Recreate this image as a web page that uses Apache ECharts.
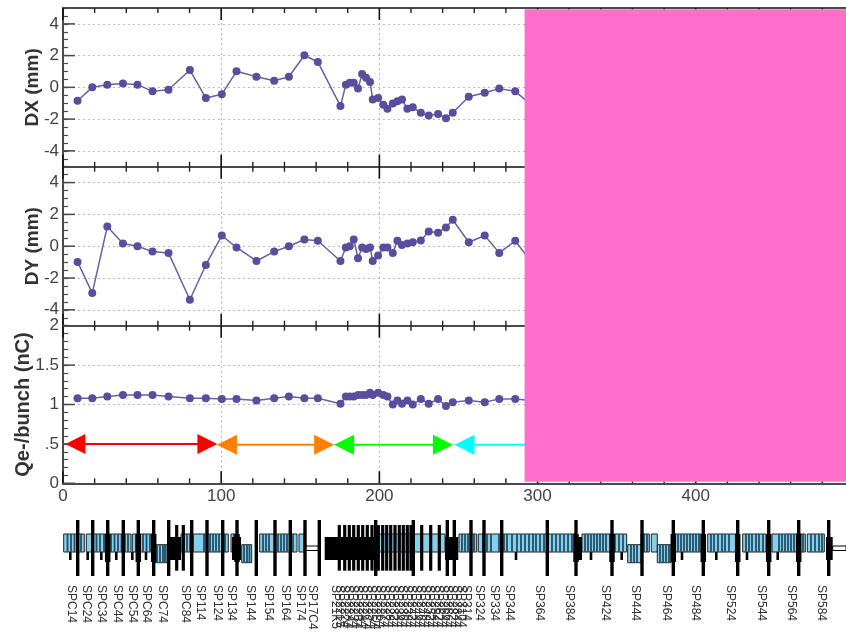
<!DOCTYPE html>
<html>
<head>
<meta charset="utf-8">
<title>orbit</title>
<style>
html, body { margin: 0; padding: 0; background: #fff; }
#main { width: 846px; height: 633px; }
</style>
<script src="https://cdn.jsdelivr.net/npm/echarts@6/dist/echarts.min.js"></script>
</head>
<body>
<div id="main"></div>
<script>
// bpm readings
var sPos = [9.2, 18.5, 28, 37.9, 47.1, 56.6, 66.7, 80.2, 90.3, 100.4, 109.7, 122.3, 133.5, 142.8, 152.6, 161.1, 175.4, 178.8, 181.3, 183.8, 186.5, 189.1, 191.6, 194.1, 195.8, 199.2, 202.5, 205.1, 208.5, 211.4, 214.3, 217.7, 221.1, 226.2, 231.2, 237.1, 242.1, 246.4, 256.5, 266.6, 275.8, 285.9, 296];
var dxValues = [-0.84, 0, 0.17, 0.25, 0.17, -0.25, -0.15, 1.09, -0.67, -0.44, 1.01, 0.67, 0.42, 0.67, 2.02, 1.6, -1.18, 0.17, 0.29, 0.29, -0.08, 0.84, 0.61, 0.34, -0.76, -0.67, -1.09, -1.35, -1.01, -0.88, -0.76, -1.35, -1.26, -1.6, -1.77, -1.68, -1.94, -1.6, -0.59, -0.34, -0.08, -0.25, -1.1];
var dyValues = [-0.99, -2.95, 1.24, 0.17, 0, -0.34, -0.42, -3.37, -1.18, 0.67, -0.08, -0.93, -0.34, 0, 0.42, 0.34, -0.93, -0.08, 0, 0.42, -0.76, -0.08, -0.17, -0.08, -0.93, -0.59, -0.08, -0.08, -0.42, 0.34, 0.08, 0.17, 0.25, 0.36, 0.93, 0.84, 1.18, 1.66, 0.25, 0.67, -0.42, 0.34, -1];
var qValues = [1.08, 1.08, 1.1, 1.12, 1.12, 1.12, 1.1, 1.08, 1.08, 1.07, 1.07, 1.05, 1.08, 1.1, 1.08, 1.08, 1.01, 1.1, 1.1, 1.1, 1.12, 1.12, 1.12, 1.15, 1.12, 1.15, 1.12, 1.1, 1, 1.05, 1.01, 1.05, 1, 1.07, 1.01, 1.07, 0.98, 1.03, 1.05, 1.03, 1.07, 1.07, 1.05];

// double arrows in the charge panel: from, to, level, colour
var arrowFrom = [1.5, 97.3, 171.4, 247.5];
var arrowTo = [97.6, 171.4, 246.5, 330];
var arrowLevel = [0.5, 0.49, 0.49, 0.49];
var arrowColors = ['#ff0000', '#ff8000', '#00ff00', '#00ffff'];

var xMajor = [0, 100, 200, 300, 400];
var xMinor = [20, 40, 60, 80, 120, 140, 160, 180, 220, 240, 260, 280, 320, 340, 360, 380, 420, 440, 460, 480];
var xMax = 495;
var maskFrom = 291.8;

// beamline strip, positions along the strip, heights around the pipe
var upperBoxes = [[0.7, 21.3], [23.3, 68], [69.3, 90.7], [118, 165.3], [168, 174.7], [196.7, 234], [236, 241.3], [312.7, 382], [396, 413.7], [415.3, 513], [519, 563.7], [578, 586.3], [588.3, 594.3], [611.3, 638], [644.7, 673], [679.7, 703], [709, 742.3], [744.3, 761.3]];
var lowerBoxes = [[91.3, 104], [178.7, 188.7], [564.7, 578], [594.3, 608]];
var upperStripes = [4.5, 8, 11.5, 15, 18, 30, 33.5, 37, 41, 44.5, 48, 51.5, 55, 58.5, 62, 65, 73, 76.5, 80, 83.5, 87, 121, 124, 127, 130, 141, 144, 147, 150, 153, 156, 159, 162, 171, 200, 203, 206, 212, 215, 218, 221, 224, 227, 230, 399, 402, 405, 408, 411, 420, 424, 428, 436, 441, 444, 449, 454, 458, 462, 466, 470, 473, 477, 481, 485, 489, 493, 497, 501, 505, 509, 522, 525, 528, 531, 534, 537, 540, 543, 552, 556, 560, 581, 584, 615, 618, 621, 624, 627, 630, 633, 636, 648, 651, 655, 659, 662, 666, 683, 686, 689, 693, 696, 700, 716, 719, 722, 725, 728, 731, 734, 737, 740, 748, 752, 756, 759];
var lowerStripes = [94, 97, 100, 102, 181, 184, 186.5, 568, 571, 574, 597, 600, 603, 606];
var longMagnets = [14.7, 29.7, 44.7, 60.3, 75.3, 90.7, 105.7, 128.7, 144, 159.7, 174, 193.3, 212, 227.3, 242, 256.3, 312.7, 350.3, 384.3, 391.3, 408, 421, 438.7, 484.3, 513, 549, 579, 610.3, 640.3, 674.7, 705.7, 735.7, 765.7];
var midMagnets = [113.7, 120.3, 276.3, 281.7, 286.3, 290.7, 295.3, 299.7, 304.3, 309, 315.3, 319.7, 323.7, 327.7, 332, 336.3, 340.3, 344.3, 348, 358.7, 367.7, 376.3];
var lowerStubs = [7.3, 24.7, 38.3, 53.3, 69.3, 83, 453, 528, 558.7, 619, 653.3, 684, 714.7];
var thickMagnets = [44.7, 75.3, 90.7, 174, 513, 549, 610.3, 640.3, 674.7, 705.7, 735.7];
var blackBlocks = [[104, 118], [169, 178], [261.7, 312], [382, 395.3], [763, 769.7], [513, 519]];
var pipes = [[242.7, 255.3], [769.7, 783]];

var labelPos = [8.7, 23.7, 38.7, 54.7, 69.3, 83.7, 99.7, 122.7, 137.7, 154.3, 168, 187.7, 205.3, 222, 237, 249.7, 272, 276.5, 281, 285.5, 290, 294.5, 299, 303.5, 308, 312.5, 317, 321.5, 326, 330.5, 335, 339.5, 344, 348.5, 353, 357.5, 362, 366.5, 371, 375.5, 380, 384.5, 389, 393.5, 398, 403.7, 416.3, 431, 446.3, 476.3, 506.3, 542, 572.3, 603, 632.3, 667, 698, 728.7, 758];
var labelNames = ['SPC14', 'SPC24', 'SPC34', 'SPC44', 'SPC54', 'SPC64', 'SPC74', 'SPC84', 'SP114', 'SP124', 'SP134', 'SP144', 'SP154', 'SP164', 'SP174', 'SP17C4', 'SP21K5', 'SP2215', 'SP2224', 'SP22A4', 'SP2234', 'SP22B4', 'SP2244', 'SP22C4', 'SP2254', 'SP22D4', 'SP2264', 'SP2274', 'SP2284', 'SP2324', 'SP2344', 'SP2364', 'SP2384', 'SP2424', 'SP2444', 'SP2464', 'SP2484', 'SP2524', 'SP2544', 'SP2624', 'SP2644', 'SP2664', 'SP2824', 'SP2844', 'SP3104', 'SP314', 'SP324', 'SP334', 'SP344', 'SP364', 'SP384', 'SP424', 'SP444', 'SP464', 'SP484', 'SP524', 'SP544', 'SP564', 'SP584'];

var FONT = 'Liberation Sans';
var AXIS_COLOR = '#4a4a4a';
var LABEL_COLOR = '#444';
var GRID_STYLE = { color: '#bbbbbb', type: [2, 3], width: 1.2 };
var panelTop = [8, 166.7, 325.7];
var panelHeight = [158.7, 159, 157.6];

function zip(xs, ys) {
    return xs.map(function (x, i) { return [x, ys[i]]; });
}

var grids = [], xAxes = [], yAxes = [], series = [];

function addX(panel, pos, showLabel) {
    xAxes.push({
        type: 'value', gridIndex: panel, position: pos, min: 0, max: xMax,
        axisLine: { show: true, onZero: false, lineStyle: { color: AXIS_COLOR, width: 2 } },
        axisTick: { show: false, customValues: xMajor },
        axisLabel: {
            show: showLabel, margin: 5, fontFamily: FONT, fontSize: 17, color: LABEL_COLOR,
            customValues: xMajor
        },
        splitLine: { show: pos == 'bottom', lineStyle: GRID_STYLE }
    });
}

for (var p = 0; p < 3; p++) {
    grids.push({ left: 63, width: 783, top: panelTop[p], height: panelHeight[p] });
}
for (p = 0; p < 3; p++) addX(p, 'bottom', p == 2);
for (p = 0; p < 3; p++) addX(p, 'top', false);

var yNames = ['DX (mm)', 'DY (mm)', 'Qe-/bunch (nC)'];
var yRange = [[-5, 5], [-5, 5], [0, 2]];
var yStep = [0.5, 0.5, 0.1];
var yMajor = [[-4, -2, 0, 2, 4], [-4, -2, 0, 2, 4], [0, 0.5, 1, 1.5, 2]];
var yGap = [21, 21, 30];
var yNameSize = [19, 19, 20];

// small ticks + labels
for (p = 0; p < 3; p++) {
    yAxes.push({
        type: 'value', gridIndex: p, min: yRange[p][0], max: yRange[p][1], interval: yStep[p],
        name: yNames[p], nameLocation: 'middle', nameRotate: 90, nameGap: yGap[p], nameMoveOverlap: false,
        nameTextStyle: { fontFamily: FONT, fontSize: yNameSize[p], fontWeight: 'bold', color: '#333' },
        axisLine: { show: true, onZero: false, lineStyle: { color: AXIS_COLOR, width: 2 } },
        axisTick: { show: true, inside: true, length: 5, lineStyle: { color: AXIS_COLOR, width: 1.2 } },
        splitLine: { show: false },
        axisLabel: {
            margin: 4, fontFamily: FONT, fontSize: 17, color: LABEL_COLOR,
            customValues: yMajor[p],
            formatter: function (v) { return v == 0.5 ? '.5' : String(v); }
        }
    });
}
// dotted grid
for (p = 0; p < 3; p++) {
    yAxes.push({
        type: 'value', gridIndex: p, min: yRange[p][0], max: yRange[p][1],
        axisLine: { show: false, onZero: false },
        axisLabel: { show: false },
        axisTick: { show: false, customValues: yMajor[p] },
        splitLine: { show: true, lineStyle: GRID_STYLE }
    });
}

// mask grid and beamline grid
var MASK_X = xAxes.length, MASK_Y = yAxes.length;
grids.push({ left: 63, width: 783, top: 9.3, height: 472.4 });
xAxes.push({ type: 'value', gridIndex: 3, min: 0, max: xMax, show: false });
yAxes.push({ type: 'value', gridIndex: 3, min: 0, max: 1, show: false });
var STRIP_X = xAxes.length, STRIP_Y = yAxes.length;
grids.push({ left: 63, width: 783, top: 515, height: 66 });
xAxes.push({ type: 'value', gridIndex: 4, min: 0, max: 783, show: false });
yAxes.push({ type: 'value', gridIndex: 4, min: -33, max: 33, show: false });

// inner ticks as thin rect symbols, size and offset in pixels
function tickSeries(panel, points, size, offset, color) {
    return {
        type: 'scatter', xAxisIndex: panel, yAxisIndex: panel, z: 9, animation: false, silent: true, clip: false,
        data: points, symbol: 'rect', symbolSize: size, symbolOffset: offset,
        itemStyle: { color: color, opacity: 1 }
    };
}
function atLevel(values, level) {
    return values.map(function (v) { return [v, level]; });
}
for (p = 0; p < 3; p++) {
    var low = yRange[p][0], high = yRange[p][1];
    series.push(tickSeries(p, atLevel(xMajor, low), [1.6, 12], [0, -6], '#111'));
    series.push(tickSeries(p, atLevel(xMajor, high), [1.6, 12], [0, 6], '#111'));
    series.push(tickSeries(p, atLevel(xMinor, low), [1.4, 5], [0, -2.5], '#222'));
    series.push(tickSeries(p, atLevel(xMinor, high), [1.4, 5], [0, 2.5], '#222'));
    series.push(tickSeries(p, yMajor[p].map(function (v) { return [0, v]; }), [12, 1.5], [6, 0], AXIS_COLOR));
}

var seriesValues = [dxValues, dyValues, qValues];
for (p = 0; p < 3; p++) {
    series.push({
        type: 'line', xAxisIndex: p, yAxisIndex: p, data: zip(sPos, seriesValues[p]),
        symbol: 'circle', symbolSize: 8, z: 10, animation: false,
        lineStyle: { color: '#6a5fa8', width: 1.5 },
        itemStyle: { color: '#5a4c9f' }
    });
}

// arrows
series.push({
    type: 'custom', xAxisIndex: 2, yAxisIndex: 2, z: 11, animation: false,
    data: arrowFrom.map(function (a, i) { return [a, arrowLevel[i], arrowTo[i], i]; }),
    renderItem: function (params, api) {
        var a = api.coord([api.value(0), api.value(1)]);
        var b = api.coord([api.value(2), api.value(1)]);
        var c = arrowColors[api.value(3)];
        return {
            type: 'group',
            children: [
                { type: 'line', shape: { x1: a[0] + 10, y1: a[1], x2: b[0] - 10, y2: b[1] }, style: { stroke: c, lineWidth: 2 } },
                { type: 'polygon', shape: { points: [[a[0], a[1]], [a[0] + 20, a[1] - 10], [a[0] + 20, a[1] + 10]] }, style: { fill: c } },
                { type: 'polygon', shape: { points: [[b[0], b[1]], [b[0] - 20, b[1] - 10], [b[0] - 20, b[1] + 10]] }, style: { fill: c } }
            ]
        };
    }
});

// rows are [from, to, top, bottom] on the beamline axes
function rectSeries(rows, fill, stroke, z) {
    return {
        type: 'custom', xAxisIndex: STRIP_X, yAxisIndex: STRIP_Y, z: z, animation: false, data: rows,
        renderItem: function (params, api) {
            var p0 = api.coord([api.value(0), api.value(2)]);
            var p1 = api.coord([api.value(1), api.value(3)]);
            return {
                type: 'rect',
                shape: { x: p0[0], y: p0[1], width: p1[0] - p0[0], height: p1[1] - p0[1] },
                style: stroke ? { fill: fill, stroke: stroke, lineWidth: 1 } : { fill: fill }
            };
        }
    };
}
function sticks(list, w, top, bottom) {
    return list.map(function (x) { return [x - w / 2, x + w / 2, top, bottom]; });
}
function spans(list, top, bottom) {
    return list.map(function (r) { return [r[0], r[1], top, bottom]; });
}

series.push(rectSeries(spans(pipes, 2, -2.5), '#fff', '#000', 2));
series.push(rectSeries(spans(upperBoxes, 14, -4), '#86cfeb', '#222', 3));
series.push(rectSeries(spans(lowerBoxes, 3.3, -14.7), '#86cfeb', '#222', 3));
series.push(rectSeries(sticks(upperStripes, 1.8, 14, -4), '#234e66', null, 4));
series.push(rectSeries(sticks(lowerStripes, 1.8, 3.3, -14.7), '#234e66', null, 4));
series.push(rectSeries(spans(blackBlocks, 11, -12), '#000', null, 5));
series.push(rectSeries(sticks(longMagnets, 3.4, 28, -28), '#000', null, 6));
series.push(rectSeries(sticks(midMagnets, 3.2, 23, -22.7), '#000', null, 6));
series.push(rectSeries(sticks(lowerStubs, 2.6, -4, -12), '#000', null, 6));
series.push(rectSeries(sticks(thickMagnets, 5.5, 14, -14), '#000', null, 6));

// labels under the strip
series.push({
    type: 'custom', xAxisIndex: STRIP_X, yAxisIndex: STRIP_Y, z: 7, animation: false,
    data: labelPos.map(function (x, i) { return [x, -37, i]; }),
    renderItem: function (params, api) {
        var pt = api.coord([api.value(0), api.value(1)]);
        return {
            type: 'text', x: pt[0], y: pt[1], rotation: -Math.PI / 2,
            style: {
                text: labelNames[api.value(2)], textAlign: 'left', textVerticalAlign: 'middle',
                fontFamily: FONT, fontSize: 12, fill: '#333'
            }
        };
    }
});

// pink mask over the right part of the panels
series.push({
    type: 'custom', xAxisIndex: MASK_X, yAxisIndex: MASK_Y, z: 20, animation: false,
    data: [[maskFrom, xMax, 1, 0]],
    renderItem: function (params, api) {
        var p0 = api.coord([api.value(0), api.value(2)]);
        var p1 = api.coord([api.value(1), api.value(3)]);
        return {
            type: 'rect',
            shape: { x: p0[0], y: p0[1], width: p1[0] - p0[0], height: p1[1] - p0[1] },
            style: { fill: '#ff6ecb' }
        };
    }
});

var myChart = echarts.init(document.getElementById('main'));
myChart.setOption({
    backgroundColor: '#fff',
    animation: false,
    grid: grids,
    xAxis: xAxes,
    yAxis: yAxes,
    series: series
});
</script>
</body>
</html>
